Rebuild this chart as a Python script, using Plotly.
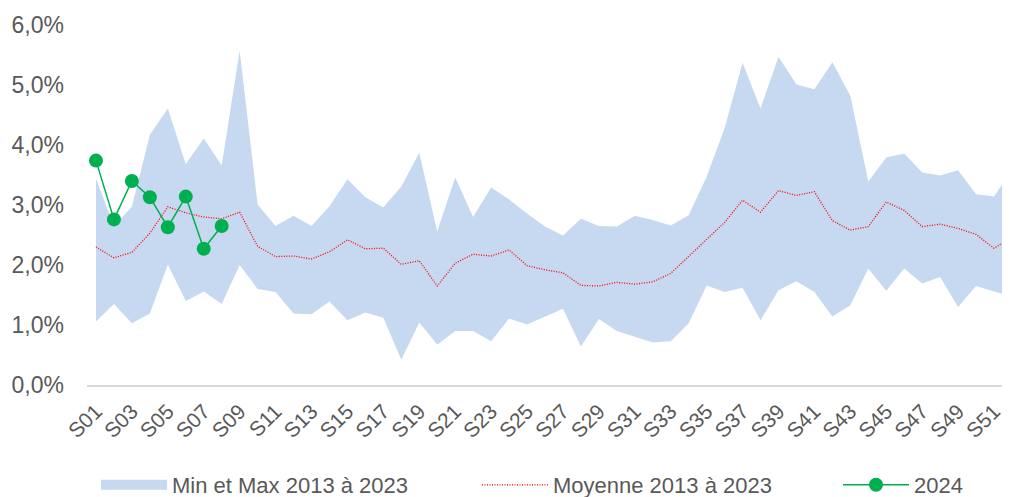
import plotly.graph_objects as go

weeks = [f"S{i:02d}" for i in range(1, 53)]
tick_weeks = weeks[::2]
y_tick_values = [0, 1, 2, 3, 4, 5, 6]
y_tick_labels = ["0,0%", "1,0%", "2,0%", "3,0%", "4,0%", "5,0%", "6,0%"]

max_2013_2023 = [3.44, 2.65, 2.97, 4.17, 4.61, 3.68, 4.11, 3.66, 5.57, 3.01,
                 2.65, 2.82, 2.65, 2.98, 3.43, 3.13, 2.96, 3.31, 3.87, 2.56,
                 3.46, 2.80, 3.29, 3.09, 2.86, 2.64, 2.49, 2.77, 2.65, 2.64,
                 2.82, 2.75, 2.66, 2.83, 3.47, 4.28, 5.37, 4.61, 5.47, 5.01,
                 4.93, 5.38, 4.82, 3.39, 3.79, 3.86, 3.54, 3.49, 3.58, 3.18,
                 3.14, 3.58]
mean_2013_2023 = [2.30, 2.12, 2.21, 2.53, 2.97, 2.87, 2.80, 2.77, 2.88, 2.31,
                  2.14, 2.15, 2.10, 2.22, 2.42, 2.27, 2.28, 2.01, 2.07, 1.65,
                  2.03, 2.18, 2.15, 2.25, 1.99, 1.92, 1.87, 1.66, 1.65, 1.71,
                  1.68, 1.72, 1.86, 2.14, 2.43, 2.71, 3.08, 2.88, 3.24, 3.16,
                  3.22, 2.74, 2.58, 2.64, 3.05, 2.91, 2.64, 2.68, 2.61, 2.51,
                  2.28, 2.46]
min_2013_2023 = [1.06, 1.35, 1.03, 1.19, 2.01, 1.40, 1.56, 1.35, 2.00, 1.60,
                 1.55, 1.19, 1.18, 1.39, 1.08, 1.21, 1.12, 0.42, 1.04, 0.67,
                 0.90, 0.90, 0.73, 1.11, 1.01, 1.14, 1.27, 0.64, 1.10, 0.90,
                 0.81, 0.71, 0.73, 1.03, 1.66, 1.55, 1.62, 1.08, 1.58, 1.73,
                 1.55, 1.14, 1.33, 1.94, 1.57, 1.94, 1.69, 1.80, 1.30, 1.65,
                 1.56, 1.47]
weeks_2024 = weeks[:8]
values_2024 = [3.74, 2.76, 3.40, 3.13, 2.63, 3.14, 2.27, 2.65]

FONT = "Liberation Sans, Arial, sans-serif"
GREY = "#595959"
AREA = "#C6D9F0"

fig = go.Figure()
fig.add_trace(go.Scatter(x=weeks, y=min_2013_2023, mode="lines",
                         line=dict(width=0, color=AREA), showlegend=False,
                         hoverinfo="skip"))
fig.add_trace(go.Scatter(x=weeks, y=max_2013_2023, mode="lines", fill="tonexty",
                         fillcolor=AREA, line=dict(width=0, color=AREA),
                         name="Min et Max 2013 à 2023", showlegend=False))
# legend-only entry for the band (wider swatch like the original)
fig.add_trace(go.Scatter(x=[None], y=[None], mode="lines",
                         line=dict(width=13, color=AREA),
                         name="Min et Max 2013 à 2023", legend="legend"))
fig.add_trace(go.Scatter(x=weeks, y=mean_2013_2023, mode="lines",
                         line=dict(color="#FF0000", width=1.3, dash="1px,1.5px"),
                         name="Moyenne 2013 à 2023", legend="legend2"))
fig.add_trace(go.Scatter(x=weeks_2024, y=values_2024, mode="lines+markers",
                         line=dict(color="#00B050", width=1.5),
                         marker=dict(size=14, color="#00B050"),
                         name="2024", legend="legend3"))

# page has an 8px body margin: size the figure so it fills the 1010x497 window
OFF = 8
W, H = 1010 - OFF, 497 - OFF
L, R, T, B = 87 - OFF, 0, 25 - OFF, 112
pw, ph = W - L - R, H - T - B


def px_x(x_page):
    return (x_page - OFF - L) / pw


def px_y(y_page):
    return (H - B - (y_page - OFF)) / ph


legend_common = dict(orientation="h", yanchor="middle", xanchor="left",
                     font=dict(family=FONT, size=22, color=GREY),
                     bgcolor="rgba(0,0,0,0)", itemwidth=66,
                     tracegroupgap=0)

fig.update_layout(
    width=W, height=H,
    margin=dict(l=L, r=R, t=T, b=B, autoexpand=False),
    plot_bgcolor="white", paper_bgcolor="white",
    font=dict(family=FONT, color=GREY),
    legend=dict(x=px_x(96), y=px_y(485), **legend_common),
    legend2=dict(x=px_x(477), y=px_y(485), **legend_common),
    legend3=dict(x=px_x(838), y=px_y(485), **legend_common),
    xaxis=dict(type="category", categoryorder="array", categoryarray=weeks,
               range=[-0.5, 50.89], tickmode="array", tickvals=tick_weeks,
               ticktext=tick_weeks, tickangle=-45, showgrid=False,
               showline=True, linecolor="#D9D9D9", linewidth=1.5, ticks="",
               tickfont=dict(family=FONT, size=21, color=GREY),
               ticklabelstandoff=4, zeroline=False, automargin=False),
    yaxis=dict(range=[0, 6], tickmode="array", tickvals=y_tick_values,
               ticktext=y_tick_labels, showgrid=False, zeroline=False,
               showline=False, ticks="", ticklabelstandoff=22,
               tickfont=dict(family=FONT, size=23, color=GREY),
               automargin=False),
)

fig.write_html("out.html")
